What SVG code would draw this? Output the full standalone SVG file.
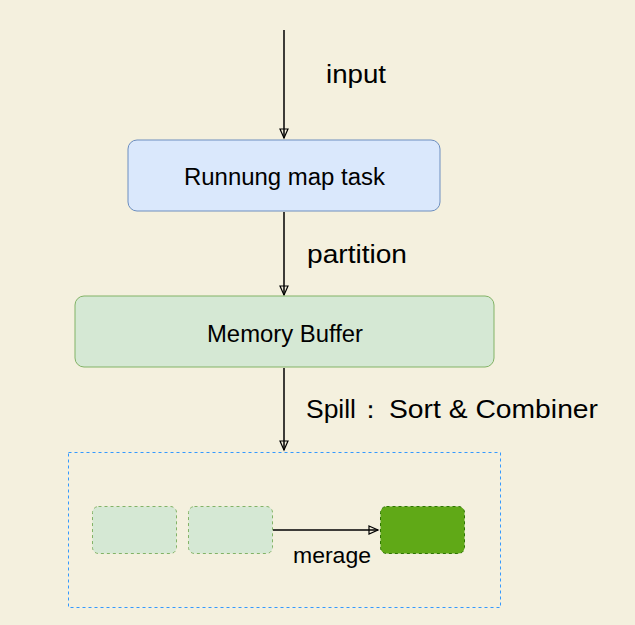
<svg xmlns="http://www.w3.org/2000/svg" width="635" height="625" viewBox="0 0 635 625">
<defs>
<marker id="arr" markerWidth="12" markerHeight="12" refX="10" refY="5" orient="auto" markerUnits="userSpaceOnUse">
<path d="M1,1 L10,5 L1,9 Z" fill="none" stroke="#000" stroke-width="1.2"/>
</marker>
<style>
.lbl{font-family:"Liberation Sans",Arial,sans-serif;fill:#000}
.conn{stroke:#000;stroke-width:1.5;fill:none;marker-end:url(#arr)}
.small{fill:#d5e8d4;stroke:#82b366;stroke-dasharray:3 3;stroke-width:1}
</style>
</defs>
<rect width="635" height="625" fill="#f4f0de"/>
<g id="connectors">
<line class="conn" x1="284" y1="30" x2="284" y2="138"/>
<line class="conn" x1="284" y1="212" x2="284" y2="295"/>
<line class="conn" x1="284" y1="368" x2="284" y2="450"/>
<line class="conn" x1="273" y1="530" x2="378" y2="530"/>
<text class="lbl" x="326" y="83" font-size="26" textLength="60" lengthAdjust="spacingAndGlyphs">input</text>
<text class="lbl" x="307" y="263" font-size="26" textLength="100" lengthAdjust="spacingAndGlyphs">partition</text>
<text class="lbl" y="418" font-size="25"><tspan x="306" textLength="50" lengthAdjust="spacingAndGlyphs">Spill</tspan><tspan x="358">：</tspan><tspan x="389" textLength="209" lengthAdjust="spacingAndGlyphs">Sort &amp; Combiner</tspan></text>
<text class="lbl" x="293" y="563" font-size="22" textLength="78" lengthAdjust="spacingAndGlyphs">merage</text>
</g>
<g id="map-task">
<rect x="128" y="140" width="312" height="71" rx="9" fill="#dae8fc" stroke="#6c8ebf"/>
<text class="lbl" x="184" y="185" font-size="23" textLength="201" lengthAdjust="spacingAndGlyphs">Runnung map task</text>
</g>
<g id="memory-buffer">
<rect x="75" y="296" width="419" height="71" rx="9" fill="#d5e8d4" stroke="#82b366"/>
<text class="lbl" x="207" y="342" font-size="23" textLength="156" lengthAdjust="spacingAndGlyphs">Memory Buffer</text>
</g>
<g id="spill-container">
<rect x="68.5" y="452.5" width="432" height="155" fill="none" stroke="#3399ff" stroke-dasharray="3 3"/>
</g>
<g id="spill1">
<rect class="small" x="92.5" y="506.5" width="84" height="47" rx="6"/>
</g>
<g id="spill2">
<rect class="small" x="188.5" y="506.5" width="84" height="47" rx="6"/>
</g>
<g id="merged">
<rect x="380.5" y="506.5" width="84" height="47" rx="6" fill="#60a917" stroke="#2d7600" stroke-dasharray="3 3"/>
</g>
</svg>
